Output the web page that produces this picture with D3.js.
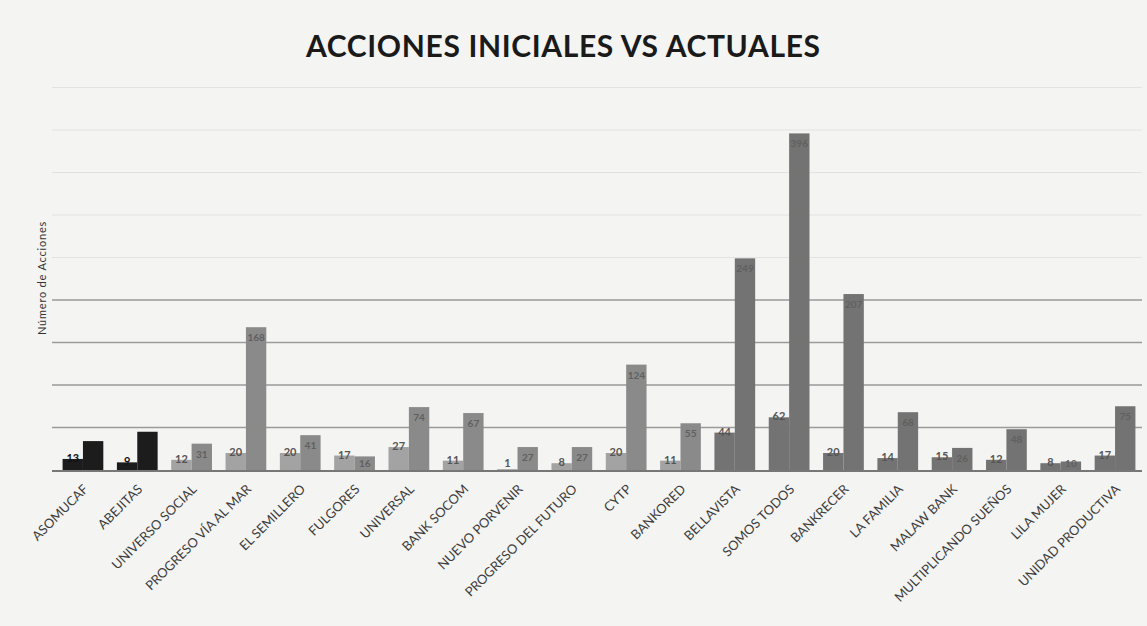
<!DOCTYPE html>
<html>
<head>
<meta charset="utf-8">
<script src="https://cdn.jsdelivr.net/npm/d3@7"></script>
<style>
  body { margin: 0; background: #f4f4f3; }
  svg { display: block; }
</style>
</head>
<body>
<script>
"use strict";

var categories = ["ASOMUCAF", "ABEJITAS", "UNIVERSO SOCIAL", "PROGRESO VÍA AL MAR", "EL SEMILLERO",
  "FULGORES", "UNIVERSAL", "BANK SOCOM", "NUEVO PORVENIR", "PROGRESO DEL FUTURO", "CYTP", "BANKORED",
  "BELLAVISTA", "SOMOS TODOS", "BANKRECER", "LA FAMILIA", "MALAW BANK", "MULTIPLICANDO SUEÑOS",
  "LILA MUJER", "UNIDAD PRODUCTIVA"];
var iniciales = [13, 9, 12, 20, 20, 17, 27, 11, 1, 8, 20, 11, 44, 62, 20, 14, 15, 12, 8, 17];
var actuales = [34, 45, 31, 168, 41, 16, 74, 67, 27, 27, 124, 55, 249, 396, 207, 68, 26, 48, 10, 75];
var yTicks = [50, 100, 150, 200, 250, 300, 350, 400, 450];

function init() {
  var w = 1147, h = 626;
  var baseY = 470, topY = 87.5;

  var svg = d3.select("body").append("svg")
    .attr("width", w)
    .attr("height", h);

  var x = d3.scaleBand()
    .domain(categories)
    .range([49, 1149])
    .paddingInner(0.25)
    .paddingOuter(0.25);

  var sub = d3.scaleBand()
    .domain(["ini", "act"])
    .range([0, x.bandwidth()]);

  var y = d3.scaleLinear()
    .domain([0, 450])
    .range([baseY, topY]);

  // gridlines (lower ones come out darker in the scan)
  svg.selectAll("line.grid")
    .data(yTicks)
    .enter()
    .append("line")
    .attr("class", "grid")
    .attr("x1", 52)
    .attr("x2", 1142)
    .attr("y1", function (d) { return y(d); })
    .attr("y2", function (d) { return y(d); })
    .attr("stroke", function (d) { return d <= 200 ? "#9a9a9a" : "#e2e2e2"; })
    .attr("stroke-width", function (d) { return d <= 200 ? 1.5 : 1; });

  function barFill(i, kind) {
    if (i < 2) return "#1c1c1c";
    if (i < 12) return kind === "ini" ? "#a3a3a3" : "#8a8a8a";
    return "#737373";
  }

  var groups = svg.selectAll("g.grp")
    .data(categories)
    .enter()
    .append("g")
    .attr("class", "grp")
    .attr("transform", function (d) { return "translate(" + x(d) + ",0)"; });

  groups.append("rect")
    .attr("x", sub("ini"))
    .attr("width", sub.bandwidth())
    .attr("y", function (d, i) { return y(iniciales[i]); })
    .attr("height", function (d, i) { return baseY - y(iniciales[i]); })
    .attr("fill", function (d, i) { return barFill(i, "ini"); });

  groups.append("rect")
    .attr("x", sub("act"))
    .attr("width", sub.bandwidth())
    .attr("y", function (d, i) { return y(actuales[i]); })
    .attr("height", function (d, i) { return baseY - y(actuales[i]); })
    .attr("fill", function (d, i) { return barFill(i, "act"); });

  // data labels
  groups.append("text")
    .text(function (d, i) { return iniciales[i]; })
    .attr("x", sub("ini") + sub.bandwidth() / 2)
    .attr("y", function (d, i) { return Math.min(y(iniciales[i]) + 3, baseY - 3); })
    .attr("text-anchor", "middle")
    .attr("font-family", "Lato, sans-serif")
    .attr("font-weight", "bold")
    .attr("font-size", "11px")
    .attr("fill", function (d, i) { return i < 2 ? "#111" : "#555"; });

  groups.append("text")
    .text(function (d, i) { return actuales[i]; })
    .attr("x", sub("act") + sub.bandwidth() / 2)
    .attr("y", function (d, i) { return Math.min(y(actuales[i]) + 14, baseY - 3); })
    .attr("text-anchor", "middle")
    .attr("font-family", "Lato, sans-serif")
    .attr("font-weight", "bold")
    .attr("font-size", "10px")
    .attr("fill", function (d, i) { return i < 2 ? "#1c1c1c" : "#606060"; });

  // baseline
  svg.append("line")
    .attr("x1", 52)
    .attr("x2", 1142)
    .attr("y1", baseY + 1)
    .attr("y2", baseY + 1)
    .attr("stroke", "#777")
    .attr("stroke-width", 2);

  // category labels, rotated
  svg.selectAll("text.cat")
    .data(categories)
    .enter()
    .append("text")
    .attr("class", "cat")
    .text(function (d) { return d; })
    .attr("text-anchor", "end")
    .attr("font-family", "Lato, sans-serif")
    .attr("font-size", "13px")
    .attr("fill", "#3d3d3d")
    .attr("transform", function (d) {
      return "translate(" + (x(d) + x.bandwidth() / 2 + 6) + "," + (baseY + 20) + ") rotate(-45)";
    });

  // titles
  svg.append("text")
    .text("ACCIONES INICIALES VS ACTUALES")
    .attr("x", 563)
    .attr("y", 57)
    .attr("text-anchor", "middle")
    .attr("font-family", "Lato, sans-serif")
    .attr("font-weight", "bold")
    .attr("font-size", "30px")
    .attr("textLength", 514)
    .attr("fill", "#1a1a1a");

  svg.append("text")
    .text("Número de Acciones")
    .attr("transform", "translate(46,278) rotate(-90)")
    .attr("text-anchor", "middle")
    .attr("font-family", "Lato, sans-serif")
    .attr("font-size", "11px")
    .attr("letter-spacing", "0.8px")
    .attr("fill", "#333");
}

window.onload = init;
</script>
</body>
</html>
